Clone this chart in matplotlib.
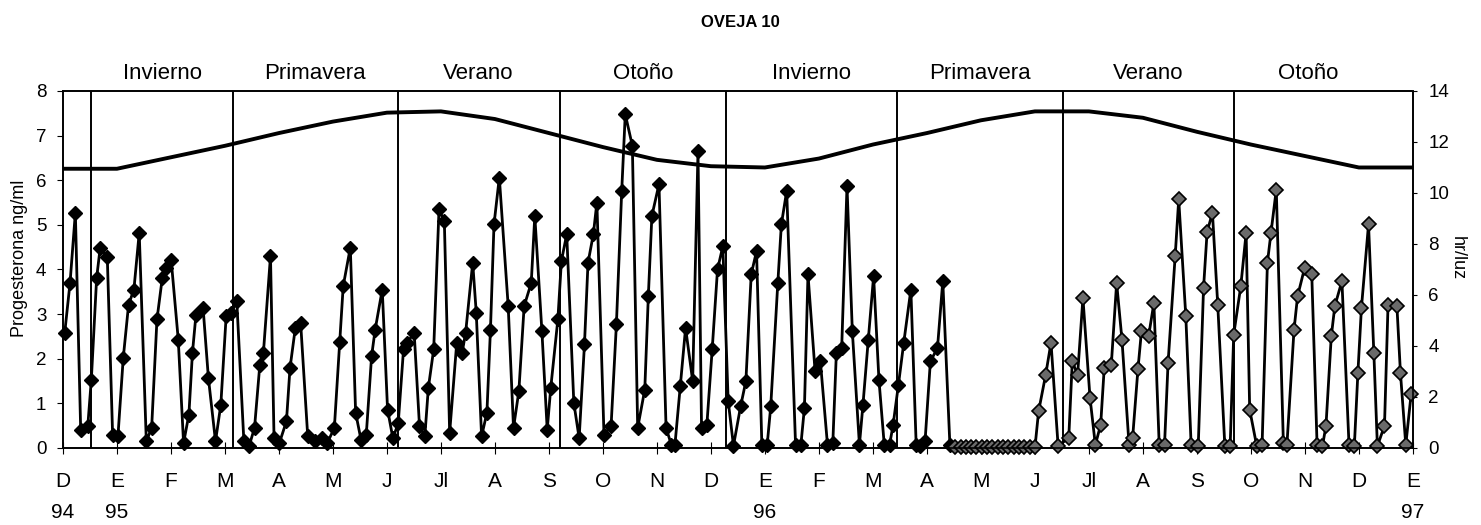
import matplotlib.pyplot as plt

plt.rcParams['font.family'] = ['Liberation Sans', 'DejaVu Sans']

# Día de muestreo (desde el 1 de diciembre de 1994) y progesterona (ng/ml)
dias = [1, 4, 7, 10, 14, 16, 19, 21, 25, 28, 31, 34, 37, 40, 43, 47, 50, 53, 56, 58,
        61, 65, 68, 71, 73, 75, 79, 82, 86, 89, 92, 95, 98, 102, 105, 108, 111, 113, 117, 119,
        122, 126, 128, 131, 134, 138, 142, 146, 149, 153, 156, 158, 162, 165, 168, 171, 174, 176, 180, 183,
        186, 189, 192, 194, 198, 201, 204, 206, 209, 212, 215, 218, 222, 225, 227, 231, 233, 236, 239, 241,
        243, 246, 251, 254, 257, 260, 264, 266, 270, 273, 275, 279, 281, 284, 288, 291, 294, 296, 299, 301,
        305, 309, 312, 315, 317, 321, 324, 328, 330, 332, 336, 340, 343, 345, 348, 351, 355, 358, 360, 363,
        366, 369, 372, 375, 378, 382, 385, 388, 391, 394, 397, 399, 403, 405, 408, 413, 416, 418, 420, 424,
        427, 431, 434, 436, 439, 442, 445, 449, 451, 454, 457, 460, 463, 466, 468, 471, 474, 478, 481, 483,
        486, 489, 493, 496, 500, 503, 506, 509, 512, 515, 518, 521, 524, 527, 530, 533, 536, 539, 542, 545,
        548, 550, 554, 557, 561, 567, 569, 572, 575, 579, 582, 585, 587, 591, 594, 597, 601, 603, 606, 608,
        612, 615, 618, 621, 623, 627, 629, 633, 636, 640, 643, 645, 648, 651, 655, 658, 660, 664, 667, 669,
        673, 676, 679, 681, 684, 688, 690, 694, 696, 700, 704, 707, 710, 712, 715, 717, 721, 725, 728, 730,
        732, 736, 739, 741, 745, 747, 752, 754, 757, 760]
progesterona = [2.58, 3.70, 5.27, 0.41, 0.49, 1.53, 3.81, 4.49, 4.28, 0.30, 0.26, 2.02, 3.21, 3.55, 4.82, 0.15, 0.45, 2.88, 3.81, 4.04,
                4.22, 2.43, 0.11, 0.75, 2.13, 2.99, 3.14, 1.57, 0.15, 0.97, 2.95, 3.03, 3.29, 0.15, 0.05, 0.45, 1.87, 2.13, 4.30, 0.22,
                0.11, 0.60, 1.79, 2.69, 2.80, 0.26, 0.15, 0.22, 0.11, 0.45, 2.37, 3.63, 4.49, 0.79, 0.19, 0.30, 2.06, 2.65, 3.55, 0.86,
                0.22, 0.55, 2.21, 2.36, 2.58, 0.49, 0.26, 1.35, 2.21, 5.35, 5.08, 0.34, 2.36, 2.13, 2.58, 4.15, 3.03, 0.26, 0.79, 2.65,
                5.01, 6.06, 3.18, 0.45, 1.27, 3.18, 3.70, 5.20, 2.62, 0.41, 1.35, 2.88, 4.19, 4.79, 1.01, 0.22, 2.32, 4.15, 4.79, 5.50,
                0.30, 0.49, 2.77, 5.76, 7.48, 6.77, 0.45, 1.31, 3.40, 5.20, 5.91, 0.45, 0.07, 0.07, 1.38, 2.69, 1.50, 6.65, 0.45, 0.52,
                2.21, 4.00, 4.52, 1.06, 0.05, 0.93, 1.50, 3.89, 4.41, 0.07, 0.07, 0.93, 3.70, 5.01, 5.76, 0.07, 0.07, 0.90, 3.89, 1.72,
                1.94, 0.07, 0.11, 2.13, 2.24, 5.87, 2.62, 0.07, 0.97, 2.43, 3.85, 1.53, 0.07, 0.07, 0.52, 1.42, 2.36, 3.55, 0.07, 0.05,
                0.15, 1.94, 2.24, 3.74, 0.07, 0.03, 0.03, 0.03, 0.03, 0.03, 0.03, 0.03, 0.03, 0.03, 0.03, 0.03, 0.03, 0.03, 0.03, 0.03,
                0.03, 0.82, 1.64, 2.36, 0.05, 0.22, 1.94, 1.64, 3.36, 1.12, 0.07, 0.52, 1.79, 1.87, 3.70, 2.43, 0.07, 0.22, 1.76, 2.62,
                2.50, 3.25, 0.07, 0.07, 1.91, 4.30, 5.57, 2.95, 0.07, 0.04, 3.59, 4.84, 5.27, 3.21, 0.04, 0.04, 2.54, 3.63, 4.82, 0.86,
                0.04, 0.07, 4.15, 4.82, 5.79, 0.11, 0.07, 2.65, 3.40, 4.04, 3.89, 0.07, 0.04, 0.49, 2.50, 3.18, 3.74, 0.07, 0.04, 1.68,
                3.14, 5.01, 2.13, 0.04, 0.50, 3.21, 3.18, 1.68, 0.07, 1.20]

# Horas de luz al inicio de cada mes (dic 94 ... ene 97)
horas_luz = [10.95, 10.95, 11.4, 11.85, 12.35, 12.8, 13.15, 13.2, 12.9, 12.35, 11.8, 11.3, 11.05,
             11.0, 11.35, 11.9, 12.35, 12.85, 13.2, 13.2, 12.95, 12.4, 11.9, 11.45, 11.0, 11.0]

meses = ['D\n94', 'E\n95', 'F', 'M', 'A', 'M', 'J', 'Jl', 'A', 'S', 'O', 'N', 'D',
         'E\n96', 'F', 'M', 'A', 'M', 'J', 'Jl', 'A', 'S', 'O', 'N', 'D', 'E\n97']
dias_mes = [i * 30.44 for i in range(len(meses))]

# Cambios de estación (días) y nombre de cada estación
cambios_estacion = [16, 96, 189, 280, 374, 470, 564, 660]
estaciones = ['Invierno', 'Primavera', 'Verano', 'Otoño', 'Invierno', 'Primavera', 'Verano', 'Otoño']
centro_estacion = [56, 142, 234, 327, 422, 517, 612, 702]

fig = plt.figure(figsize=(14.81, 5.25), dpi=100)
ax = fig.add_axes([0.0425, 0.1467, 0.9115, 0.68])
ax2 = ax.twinx()

for d in cambios_estacion:
    ax.axvline(d, color='black', lw=1.4, zorder=1)

corte = 165  # a partir de aquí los marcadores se ven tramados
ax.plot(dias, progesterona, color='black', lw=2, zorder=3, clip_on=False)
ax.plot(dias[:corte], progesterona[:corte], ls='none', marker='D', ms=7,
        mfc='black', mec='black', zorder=4, clip_on=False)
ax.plot(dias[corte:], progesterona[corte:], ls='none', marker='D', ms=7,
        mfc='#6a6a6a', mec='black', mew=1.2, zorder=4, clip_on=False)

ax2.plot(dias_mes, horas_luz, color='black', lw=2.8)

ax.set_xlim(0, dias_mes[-1])
ax.set_ylim(0, 8)
ax2.set_ylim(0, 14)
ax.set_xticks(dias_mes)
ax.set_xticklabels(meses, fontsize=15, linespacing=1.85)
ax.set_yticks(range(0, 9))
ax2.set_yticks(range(0, 15, 2))
ax.tick_params(axis='y', labelsize=13.5, length=4, pad=8)
ax2.tick_params(axis='y', labelsize=13.5, length=3, pad=8)
ax.tick_params(axis='x', direction='inout', length=8, pad=13)

for a in (ax, ax2):
    for lado in ('top', 'left', 'right'):
        a.spines[lado].set_linestyle((0, (1, 1)))
        a.spines[lado].set_linewidth(1.2)
    a.spines['bottom'].set_linewidth(1.2)

ax.set_ylabel('Progesterona ng/ml', fontsize=13, va='center', ha='center')
ax.yaxis.set_label_coords(-0.032, 0.532)
ax2.set_ylabel('hr/luz', fontsize=13, rotation=270, va='center', ha='center')
ax2.yaxis.set_label_coords(1.033, 0.532)

for nombre, c in zip(estaciones, centro_estacion):
    ax.text(c, 1.05, nombre, transform=ax.get_xaxis_transform(),
            ha='center', va='center', fontsize=16)

fig.text(0.5, 0.958, 'OVEJA 10', ha='center', va='center', fontsize=12, fontweight='bold')

fig.savefig('out.png', dpi=100)
